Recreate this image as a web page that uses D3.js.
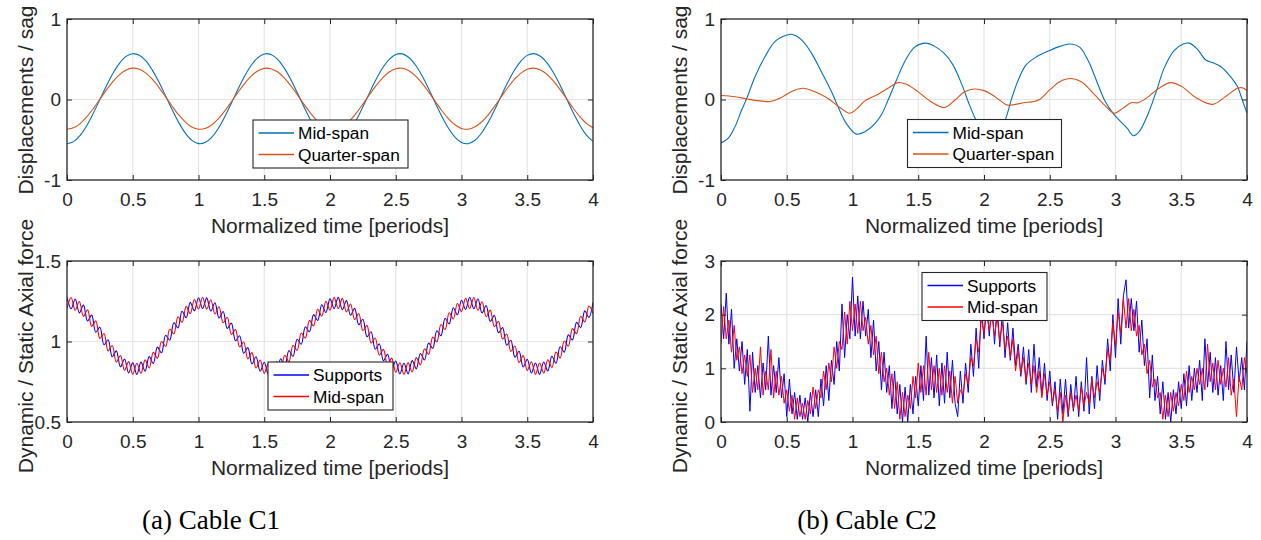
<!DOCTYPE html>
<html>
<head>
<meta charset="utf-8">
<script src="https://cdn.jsdelivr.net/npm/d3@7"></script>
<style>
  body { margin: 0; background: #fff; }
  svg { display: block; font-family: "Liberation Sans", Arial, sans-serif; }
</style>
</head>
<body>
<svg id="fig" width="1261" height="540"></svg>
<script>
/* ---- data ---- */
var xTicks = [0, 0.5, 1, 1.5, 2, 2.5, 3, 3.5, 4];
var yTicksDisp = [-1, 0, 1];
var yTicksForceC1 = [0.5, 1, 1.5];
var yTicksForceC2 = [0, 1, 2, 3];

// Cable C1, displacements, sampled every 0.05 periods
var stepDispC1 = 0.05;
var dispC1Mid = [
  -0.550, -0.523, -0.446, -0.325, -0.171, -0.001, 0.170, 0.326, 0.452, 0.536,
  0.569, 0.550, 0.479, 0.362, 0.213, 0.044, -0.128, -0.287, -0.418, -0.508,
  -0.548, -0.535, -0.470, -0.360, -0.213, -0.047, 0.126, 0.288, 0.423, 0.518,
  0.566, 0.560, 0.502, 0.396, 0.254, 0.089, -0.084, -0.248, -0.388, -0.489,
  -0.543, -0.544, -0.492, -0.392, -0.254, -0.091, 0.082, 0.248, 0.391, 0.498,
  0.559, 0.567, 0.522, 0.428, 0.294, 0.133, -0.039, -0.207, -0.355, -0.467,
  -0.534, -0.549, -0.510, -0.422, -0.293, -0.135, 0.037, 0.207, 0.357, 0.474,
  0.548, 0.570, 0.538, 0.456, 0.332, 0.177, 0.006, -0.165, -0.319, -0.442,
  -0.521
];
var dispC1Quarter = [
  -0.370, -0.352, -0.299, -0.217, -0.113, 0.002, 0.119, 0.225, 0.310, 0.367,
  0.390, 0.376, 0.328, 0.249, 0.148, 0.033, -0.084, -0.192, -0.280, -0.342,
  -0.369, -0.360, -0.316, -0.241, -0.142, -0.028, 0.089, 0.198, 0.290, 0.355,
  0.387, 0.383, 0.344, 0.272, 0.176, 0.064, -0.054, -0.165, -0.260, -0.329,
  -0.365, -0.366, -0.330, -0.263, -0.169, -0.058, 0.059, 0.172, 0.269, 0.341,
  0.382, 0.388, 0.357, 0.293, 0.203, 0.094, -0.023, -0.137, -0.237, -0.314,
  -0.359, -0.369, -0.343, -0.283, -0.196, -0.088, 0.028, 0.143, 0.246, 0.325,
  0.375, 0.390, 0.368, 0.313, 0.229, 0.123, 0.007, -0.109, -0.213, -0.297,
  -0.350
];

// Cable C2, displacements (irregular sampling)
var tDispC2Mid = [0, 0.056, 0.106, 0.157, 0.195, 0.258, 0.334, 0.41, 0.5, 0.537,
  0.613, 0.69, 0.765, 0.84, 0.89, 0.954, 1.03, 1.094, 1.17, 1.22,
  1.27, 1.334, 1.397, 1.473, 1.562, 1.625, 1.70, 1.764, 1.828, 1.89,
  1.94, 2.0, 2.05, 2.1, 2.16, 2.21, 2.26, 2.32, 2.40, 2.50,
  2.576, 2.65, 2.727, 2.79, 2.854, 2.917, 2.98, 3.03, 3.09, 3.136,
  3.18, 3.245, 3.31, 3.37, 3.447, 3.515, 3.56, 3.62, 3.687, 3.737,
  3.80, 3.876, 3.927, 3.965, 4.0];
var dispC2Mid = [-0.54, -0.48, -0.34, -0.13, 0.01, 0.28, 0.53, 0.72, 0.80, 0.81,
  0.74, 0.57, 0.34, 0.10, -0.09, -0.30, -0.43, -0.40, -0.30, -0.19,
  -0.01, 0.24, 0.47, 0.65, 0.70, 0.66, 0.57, 0.43, 0.20, -0.07,
  -0.26, -0.45, -0.52, -0.45, -0.26, 0.01, 0.24, 0.43, 0.53, 0.61,
  0.66, 0.69, 0.65, 0.49, 0.24, -0.01, -0.17, -0.26, -0.36, -0.45,
  -0.40, -0.19, 0.10, 0.39, 0.61, 0.69, 0.70, 0.63, 0.49, 0.46,
  0.41, 0.28, 0.16, -0.01, -0.17];
var tDispC2Quarter = [0, 0.106, 0.21, 0.31, 0.372, 0.46, 0.537, 0.625, 0.714, 0.815,
  0.904, 0.98, 1.03, 1.094, 1.195, 1.27, 1.347, 1.41, 1.50, 1.60,
  1.70, 1.777, 1.853, 1.93, 2.0, 2.07, 2.12, 2.18, 2.30, 2.41,
  2.50, 2.576, 2.657, 2.74, 2.83, 2.917, 2.99, 3.055, 3.12, 3.17,
  3.22, 3.28, 3.34, 3.42, 3.505, 3.61, 3.737, 3.84, 3.927, 3.965,
  4.0];
var dispC2Quarter = [0.05, 0.035, 0.004, -0.02, -0.025, 0.025, 0.10, 0.14, 0.095, 0.012,
  -0.10, -0.17, -0.12, -0.017, 0.066, 0.14, 0.21, 0.19, 0.095, -0.03,
  -0.10, -0.01, 0.095, 0.13, 0.11, 0.05, -0.01, -0.07, -0.04, -0.01,
  0.12, 0.22, 0.26, 0.22, 0.08, -0.07, -0.17, -0.11, -0.04, -0.04,
  0.0, 0.075, 0.15, 0.21, 0.16, 0.025, -0.06, 0.04, 0.14, 0.145,
  0.11];

// Cable C1, axial force ratio, sampled every 1/32 period
var stepForceC1 = 1 / 32;
var forceC1Supports = [
  1.275, 1.203, 1.264, 1.178, 1.226, 1.127, 1.164, 1.058, 1.089, 0.980,
  1.011, 0.905, 0.942, 0.843, 0.891, 0.805, 0.867, 0.795, 0.872, 0.816,
  0.906, 0.863, 0.965, 0.930, 1.039, 1.008, 1.117, 1.084, 1.188, 1.148,
  1.243, 1.191, 1.272, 1.205, 1.271, 1.189, 1.241, 1.146, 1.186, 1.081,
  1.114, 1.005, 1.036, 0.927, 0.962, 0.861, 0.905, 0.815, 0.871, 0.795,
  0.867, 0.806, 0.893, 0.845, 0.944, 0.907, 1.014, 0.983, 1.092, 1.061,
  1.167, 1.130, 1.228, 1.180, 1.265, 1.204, 1.274, 1.198, 1.254, 1.163,
  1.206, 1.104, 1.138, 1.030, 1.061, 0.952, 0.985, 0.881, 0.921, 0.827,
  0.879, 0.798, 0.865, 0.799, 0.881, 0.830, 0.925, 0.885, 0.990, 0.957,
  1.067, 1.036, 1.144, 1.109, 1.210, 1.166, 1.256, 1.199, 1.275, 1.203,
  1.264, 1.177, 1.224, 1.125, 1.162, 1.055, 1.086, 0.977, 1.008, 0.902,
  0.939, 0.842, 0.890, 0.804, 0.866, 0.796, 0.873, 0.817, 0.908, 0.865,
  0.967, 0.933, 1.041, 1.010, 1.119, 1.087, 1.190, 1.150, 1.244
];
var forceC1Mid = [
  1.205, 1.273, 1.194, 1.248, 1.156, 1.197, 1.094, 1.128, 1.019, 1.050,
  0.941, 0.975, 0.872, 0.913, 0.821, 0.875, 0.797, 0.865, 0.802, 0.886,
  0.836, 0.933, 0.895, 1.000, 0.969, 1.078, 1.047, 1.154, 1.118, 1.218,
  1.173, 1.261, 1.202, 1.275, 1.201, 1.259, 1.171, 1.216, 1.116, 1.151,
  1.044, 1.075, 0.966, 0.997, 0.892, 0.931, 0.835, 0.885, 0.801, 0.865,
  0.797, 0.876, 0.823, 0.915, 0.874, 0.977, 0.944, 1.053, 1.022, 1.131,
  1.097, 1.200, 1.158, 1.250, 1.195, 1.274, 1.204, 1.268, 1.184, 1.233,
  1.136, 1.174, 1.068, 1.100, 0.991, 1.022, 0.915, 0.951, 0.851, 0.897,
  0.809, 0.868, 0.795, 0.869, 0.811, 0.900, 0.855, 0.955, 0.920, 1.027,
  0.997, 1.106, 1.074, 1.179, 1.140, 1.236, 1.186, 1.269, 1.205, 1.273,
  1.194, 1.247, 1.154, 1.195, 1.092, 1.125, 1.016, 1.047, 0.938, 0.972,
  0.869, 0.912, 0.820, 0.874, 0.796, 0.866, 0.803, 0.887, 0.838, 0.935,
  0.897, 1.003, 0.971, 1.080, 1.049, 1.157, 1.121, 1.220, 1.174
];

// Cable C2, axial force ratio, sampled every 0.02 periods
var stepForceC2 = 0.02;
var forceC2Supports = [
  2.20, 1.55, 2.40, 1.45, 2.10, 1.00, 1.55, 0.95, 1.50, 0.70,
  1.35, 0.20, 1.30, 0.55, 1.05, 0.45, 1.10, 0.60, 1.60, 0.50,
  1.05, 0.55, 1.20, 0.45, 0.90, 0.10, 0.80, 0.15, 0.55, 0.05,
  0.50, 0.05, 0.45, 0.00, 0.55, 0.10, 0.60, 0.10, 0.80, 0.30,
  1.05, 0.40, 1.15, 0.70, 1.50, 0.95, 2.20, 1.20, 2.00, 1.55,
  2.70, 1.60, 2.35, 1.55, 2.25, 1.60, 2.10, 1.20, 1.90, 0.95,
  1.50, 0.60, 1.30, 0.55, 1.05, 0.25, 0.95, 0.15, 0.70, 0.00,
  0.65, 0.00, 0.70, 0.15, 0.85, 0.30, 1.05, 0.40, 1.60, 0.50,
  1.20, 0.45, 1.25, 0.30, 1.10, 0.35, 1.30, 0.45, 1.15, 0.35,
  0.10, 0.95, 0.35, 1.10, 0.55, 1.45, 0.85, 1.75, 1.00, 2.15,
  1.55, 2.30, 1.60, 2.25, 1.45, 2.20, 1.40, 2.05, 1.20, 1.85,
  1.15, 1.75, 1.05, 1.45, 0.85, 1.40, 0.70, 1.35, 0.55, 1.45,
  0.65, 1.20, 0.50, 1.10, 0.40, 0.95, 0.30, 0.75, 0.05, 0.80,
  0.15, 0.80, 0.10, 0.70, 0.20, 0.85, 0.10, 0.75, 0.20, 1.20,
  0.15, 0.85, 0.25, 1.05, 0.40, 1.15, 0.70, 1.55, 0.95, 2.00,
  1.20, 2.30, 1.45, 2.35, 2.65, 1.75, 2.30, 1.70, 2.25, 1.30,
  1.90, 1.05, 1.55, 0.45, 1.25, 0.40, 0.85, 0.15, 0.75, 0.05,
  0.55, 0.00, 0.60, 0.15, 0.75, 0.25, 0.90, 0.30, 1.05, 0.40,
  1.00, 0.55, 1.15, 0.40, 1.55, 0.65, 1.30, 0.55, 1.20, 0.50,
  1.05, 0.40, 1.50, 0.60, 1.25, 0.55, 1.40, 0.75, 1.20, 0.60,
  1.50
];
var forceC2Mid = [
  1.45, 2.15, 1.55, 1.90, 1.30, 1.80, 1.15, 1.40, 0.90, 1.25,
  0.85, 1.25, 0.55, 1.00, 0.60, 1.40, 0.50, 0.95, 0.60, 1.35,
  0.45, 0.95, 0.50, 0.85, 0.35, 0.60, 0.20, 0.50, 0.05, 0.45,
  0.10, 0.35, 0.05, 0.40, 0.15, 0.65, 0.25, 0.60, 0.45, 0.95,
  0.60, 1.10, 0.75, 1.40, 1.00, 1.50, 1.35, 2.05, 1.45, 2.25,
  1.70, 2.20, 1.65, 2.25, 1.70, 1.95, 1.45, 1.80, 1.25, 1.60,
  0.90, 1.30, 0.75, 1.00, 0.50, 0.90, 0.25, 0.75, 0.05, 0.55,
  0.10, 0.50, 0.25, 0.85, 0.45, 1.10, 0.55, 1.05, 0.50, 1.30,
  0.60, 1.05, 0.55, 1.00, 0.50, 1.05, 0.55, 0.95, 0.35, 0.85,
  0.35, 0.60, 0.50, 0.90, 0.70, 1.20, 1.05, 1.55, 1.30, 1.95,
  1.65, 2.05, 1.70, 2.00, 1.60, 1.95, 1.50, 1.85, 1.35, 1.60,
  1.20, 1.55, 0.95, 1.35, 0.90, 1.20, 0.75, 1.10, 0.70, 1.05,
  0.55, 0.95, 0.45, 0.90, 0.50, 0.75, 0.35, 0.60, 0.20, 0.55,
  0.00, 0.50, 0.15, 0.55, 0.25, 0.50, 0.20, 0.65, 0.30, 0.55,
  0.35, 0.80, 0.45, 0.75, 0.55, 1.00, 0.80, 1.35, 1.15, 1.85,
  1.40, 2.05, 1.65, 2.30, 1.75, 2.30, 1.70, 2.10, 1.60, 1.80,
  1.25, 1.45, 0.90, 1.15, 0.65, 0.80, 0.45, 0.55, 0.05, 0.50,
  0.10, 0.55, 0.20, 0.55, 0.30, 0.70, 0.40, 0.95, 0.55, 0.85,
  0.60, 1.00, 0.70, 1.00, 0.60, 1.45, 0.75, 1.10, 0.60, 1.15,
  0.70, 1.00, 0.65, 1.20, 0.50, 0.80, 0.10, 0.85, 0.60, 1.20,
  0.90
];

var xLabel = "Normalized time [periods]";
var yLabelDisp = "Displacements / sag";
var yLabelForce = "Dynamic / Static Axial force";
var captions = ["(a) Cable C1", "(b) Cable C2"];

/* ---- drawing ---- */
var svg = d3.select("#fig");
var W = 526, H = 161;
var axisColor = "#262626";

function uniform(values, step) {
  return values.map((v, i) => [i * step, v]);
}
function paired(ts, values) {
  return ts.map((t, i) => [t, values[i]]);
}

function panel(p) {
  var x = d3.scaleLinear().domain([0, 4]).range([p.left, p.left + W]);
  var y = d3.scaleLinear().domain(p.yDomain).range([p.top + H, p.top]);
  var g = svg.append("g");

  var clipId = "clip-" + p.id;
  g.append("clipPath").attr("id", clipId)
    .append("rect")
    .attr("x", p.left).attr("y", p.top)
    .attr("width", W).attr("height", H);

  // grid
  g.append("g").selectAll("line")
    .data(xTicks.slice(1, -1)).join("line")
    .attr("x1", d => x(d)).attr("x2", d => x(d))
    .attr("y1", p.top).attr("y2", p.top + H)
    .attr("stroke", "#e4e4e4").attr("stroke-width", 1.2);
  g.append("g").selectAll("line")
    .data(p.yTicks.slice(1, -1)).join("line")
    .attr("x1", p.left).attr("x2", p.left + W)
    .attr("y1", d => y(d)).attr("y2", d => y(d))
    .attr("stroke", "#e4e4e4").attr("stroke-width", 1.2);

  // series
  var line = d3.line()
    .x(d => x(d[0]))
    .y(d => y(d[1]))
    .curve(p.curve);

  g.append("g").attr("clip-path", "url(#" + clipId + ")")
    .selectAll("path")
    .data(p.series).join("path")
    .attr("d", s => line(s.points))
    .attr("fill", "none")
    .attr("stroke", s => s.color)
    .attr("stroke-width", p.lineWidth)
    .attr("stroke-linejoin", "round");

  // axes, ticks pointing inward on all four sides
  var fmt = d => String(d);
  var bottom = g.append("g")
    .attr("transform", `translate(0,${p.top + H})`)
    .call(d3.axisBottom(x).tickValues(xTicks).tickSize(-5).tickPadding(13).tickFormat(fmt));
  var top = g.append("g")
    .attr("transform", `translate(0,${p.top})`)
    .call(d3.axisTop(x).tickValues(xTicks).tickSize(-5).tickFormat(""));
  var left = g.append("g")
    .attr("transform", `translate(${p.left},0)`)
    .call(d3.axisLeft(y).tickValues(p.yTicks).tickSize(-5).tickPadding(6).tickFormat(fmt));
  var right = g.append("g")
    .attr("transform", `translate(${p.left + W},0)`)
    .call(d3.axisRight(y).tickValues(p.yTicks).tickSize(-5).tickFormat(""));

  [bottom, top, left, right].forEach(a => {
    a.attr("font-family", null).attr("font-size", null);
    a.select(".domain").remove();
    a.selectAll(".tick line").attr("stroke", axisColor).attr("stroke-width", 1);
    a.selectAll(".tick text")
      .attr("fill", axisColor)
      .style("font-size", "19px");
  });

  g.append("rect")
    .attr("x", p.left).attr("y", p.top)
    .attr("width", W).attr("height", H)
    .attr("fill", "none")
    .attr("stroke", axisColor)
    .attr("stroke-width", 1.3);

  // axis labels
  g.append("text")
    .attr("x", p.left + W / 2).attr("y", p.top + H + 53)
    .attr("text-anchor", "middle")
    .attr("fill", axisColor)
    .style("font-size", "21px")
    .text(xLabel);
  g.append("text")
    .attr("transform", `translate(${p.left - 34},${p.yLabelCy}) rotate(-90)`)
    .attr("text-anchor", "middle")
    .attr("fill", axisColor)
    .style("font-size", "21px")
    .text(p.yLabel);

  // legend
  var L = p.legend;
  var lg = g.append("g")
    .attr("transform", `translate(${p.left + L.dx},${p.top + L.dy})`);
  lg.append("rect")
    .attr("width", L.w).attr("height", 48)
    .attr("fill", "#fff")
    .attr("stroke", axisColor)
    .attr("stroke-width", 1.1);
  var rows = lg.selectAll("g.row")
    .data(p.series).join("g")
    .attr("class", "row")
    .attr("transform", (s, i) => `translate(0,${13 + i * 21.5})`);
  rows.append("line")
    .attr("x1", 5.5).attr("x2", 41)
    .attr("stroke", s => s.color)
    .attr("stroke-width", 1.3);
  rows.append("text")
    .attr("x", 45).attr("y", 6.2)
    .attr("fill", "#000")
    .style("font-size", "17.3px")
    .text(s => s.name);
}

var blueM = "#0072BD", orangeM = "#D95319";

panel({
  id: "a1", left: 67, top: 19, yDomain: [-1, 1], yTicks: yTicksDisp,
  yLabel: yLabelDisp, yLabelCy: 100, curve: d3.curveCatmullRom, lineWidth: 1.1,
  legend: { dx: 186, dy: 101, w: 155 },
  series: [
    { name: "Mid-span", color: blueM, points: uniform(dispC1Mid, stepDispC1) },
    { name: "Quarter-span", color: orangeM, points: uniform(dispC1Quarter, stepDispC1) }
  ]
});

panel({
  id: "b1", left: 721, top: 19, yDomain: [-1, 1], yTicks: yTicksDisp,
  yLabel: yLabelDisp, yLabelCy: 100, curve: d3.curveCatmullRom, lineWidth: 1.1,
  legend: { dx: 186.5, dy: 100.5, w: 154 },
  series: [
    { name: "Mid-span", color: blueM, points: paired(tDispC2Mid, dispC2Mid) },
    { name: "Quarter-span", color: orangeM, points: paired(tDispC2Quarter, dispC2Quarter) }
  ]
});

panel({
  id: "a2", left: 67, top: 261, yDomain: [0.5, 1.5], yTicks: yTicksForceC1,
  yLabel: yLabelForce, yLabelCy: 346, curve: d3.curveCatmullRom, lineWidth: 1.1,
  legend: { dx: 201, dy: 101, w: 125 },
  series: [
    { name: "Supports", color: "#0000ff", points: uniform(forceC1Supports, stepForceC1) },
    { name: "Mid-span", color: "#ff0000", points: uniform(forceC1Mid, stepForceC1) }
  ]
});

panel({
  id: "b2", left: 721, top: 261, yDomain: [0, 3], yTicks: yTicksForceC2,
  yLabel: yLabelForce, yLabelCy: 346, curve: d3.curveLinear, lineWidth: 1,
  legend: { dx: 201, dy: 11.5, w: 125 },
  series: [
    { name: "Supports", color: "#0000ff", points: uniform(forceC2Supports, stepForceC2) },
    { name: "Mid-span", color: "#ff0000", points: uniform(forceC2Mid, stepForceC2) }
  ]
});

// sub-figure captions
svg.selectAll("text.caption")
  .data(captions).join("text")
  .attr("class", "caption")
  .attr("x", (d, i) => i === 0 ? 211 : 867)
  .attr("y", 529)
  .attr("text-anchor", "middle")
  .style("font-family", "'Liberation Serif', 'DejaVu Serif', serif")
  .style("font-size", "27px")
  .attr("fill", "#000")
  .text(d => d);
</script>
</body>
</html>
